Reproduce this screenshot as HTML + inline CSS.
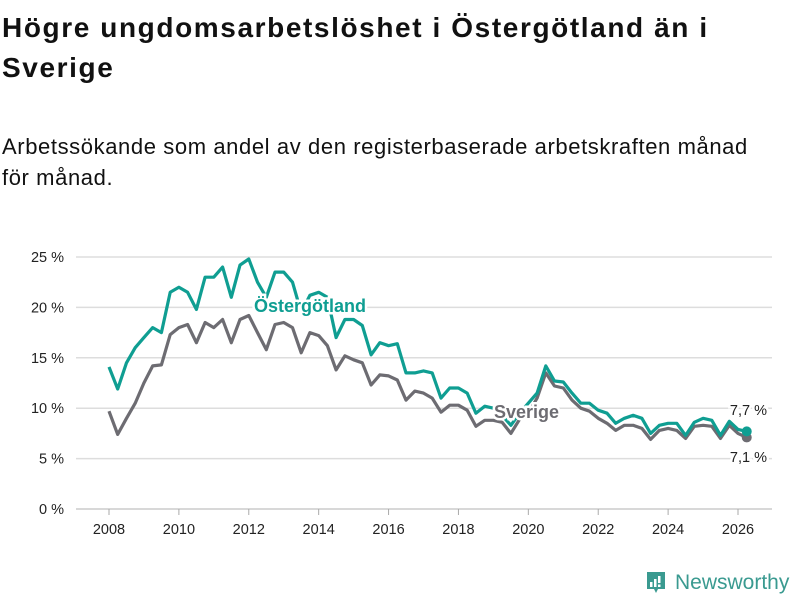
<!DOCTYPE html>
<html><head><meta charset="utf-8">
<style>
body{margin:0;background:#fff;font-family:"Liberation Sans","DejaVu Sans",sans-serif;color:#111}
#wrap{position:relative;width:800px;height:600px;overflow:hidden}
h1{position:absolute;left:2px;top:8px;margin:0;font-size:28px;line-height:40px;font-weight:bold;width:798px;letter-spacing:1.6px;white-space:nowrap}
.sub{position:absolute;left:2px;top:131px;margin:0;font-size:22px;line-height:31px;width:798px;letter-spacing:0.6px;white-space:nowrap}
svg{position:absolute;left:0;top:0}
</style></head><body>
<div id="wrap">
<h1>Högre ungdomsarbetslöshet i Östergötland än i<br>Sverige</h1>
<p class="sub">Arbetssökande som andel av den registerbaserade arbetskraften månad<br>för månad.</p>
<svg id="chart" width="800" height="600"></svg>
<div style="position:absolute;left:645px;top:570px;height:26px;display:flex;align-items:center">
<svg width="22" height="24" style="position:static" viewBox="0 0 22 24"><path d="M2 1h18v17h-7l-2 4-2-4H2z" fill="#3a9a90"/><rect x="5" y="11" width="2.5" height="5" fill="#fff"/><rect x="9" y="8" width="2.5" height="8" fill="#fff"/><rect x="13" y="5" width="2.5" height="7" fill="#fff"/><rect x="13" y="13.5" width="2.5" height="2.5" fill="#fff"/></svg>
<span style="color:#3a9a90;font-size:21px;margin-left:8px">Newsworthy</span></div>
</div>
<script>
const startYear = 2008;
const stepYears = 0.25;
const ostergotland = [14.1,11.9,14.5,16,17,18,17.5,21.5,22,21.5,19.8,23,23,24,21,24.2,24.8,22.5,21,23.5,23.5,22.5,19.5,21.2,21.5,21,17,18.8,18.8,18.2,15.3,16.5,16.2,16.4,13.5,13.5,13.7,13.5,11,12,12,11.5,9.5,10.2,10,9.3,8.3,9.5,10.5,11.5,14.2,12.7,12.6,11.5,10.5,10.5,9.8,9.5,8.5,9,9.3,9,7.5,8.3,8.5,8.5,7.3,8.6,9,8.8,7.3,8.7,7.9,7.7];
const sverige = [9.7,7.4,9,10.5,12.5,14.2,14.3,17.3,18,18.3,16.5,18.5,18,18.8,16.5,18.8,19.2,17.5,15.8,18.3,18.5,18,15.5,17.5,17.2,16.2,13.8,15.2,14.8,14.5,12.3,13.3,13.2,12.8,10.8,11.7,11.5,11,9.6,10.3,10.3,9.8,8.2,8.8,8.8,8.6,7.5,8.9,9.5,11,13.5,12.2,12,10.8,10,9.7,9,8.5,7.8,8.3,8.3,8,6.9,7.8,8,7.8,7,8.2,8.3,8.2,7,8.3,7.5,7.1];
const yTicks = [0,5,10,15,20,25];
const xTicks = [2008,2010,2012,2014,2016,2018,2020,2022,2024,2026];
const svg = document.getElementById('chart');
const NS = 'http://www.w3.org/2000/svg';
const x = yr => 109 + (yr - 2008) * (738 - 109) / 18;
const y = v => 509 - v * (509 - 257) / 25;
function mk(tag, attrs, parent){const e=document.createElementNS(NS,tag);for(const k in attrs)e.setAttribute(k,attrs[k]);(parent||svg).appendChild(e);return e;}
yTicks.forEach(t=>{
  const l=mk('line',{x1:76,x2:772,y1:y(t),y2:y(t),stroke:t===0?'#ccc':'#ddd','stroke-width':1.5});
  
  
  const tx=mk('text',{x:64,y:y(t)+5,'text-anchor':'end','font-size':14.5,fill:'#222'});
  tx.textContent=t+' %';
  
  
});
xTicks.forEach(t=>{
  const l=mk('line',{x1:x(t),x2:x(t),y1:509,y2:515,stroke:'#aaa','stroke-width':1});
  
  
  const tx=mk('text',{x:x(t),y:534,'text-anchor':'middle','font-size':14.5,fill:'#222'});
  tx.textContent=t;
  
  
});
function line(data,color,name){
  const d=data.map((v,i)=>(i?'L':'M')+x(startYear+i*stepYears).toFixed(1)+','+y(v).toFixed(1)).join('');
  const p=mk('path',{d:d,fill:'none',stroke:color,'stroke-width':3.2,'stroke-linejoin':'round'});
  
  
  const n=data.length-1;
  const c=mk('circle',{cx:x(startYear+n*stepYears),cy:y(data[n]),r:5,fill:color});
  
  
}
line(sverige,'#6d6c72','sverige-line');
line(ostergotland,'#0f9e92','ostergotland-line');
function label(txt,xx,yy,color,size,bold,name,anchor){
  const t=mk('text',{x:xx,y:yy,fill:color,'font-size':size,'font-weight':bold?'bold':'normal',stroke:'#fff','stroke-width':5,'paint-order':'stroke','text-anchor':anchor||'start'});
  t.textContent=txt;
  
  
}
label('Östergötland',254,312,'#0f9e92',18,true,'ostergotland-label');
label('Sverige',494,418,'#6d6c72',18,true,'sverige-label');
label('7,7 %',767,415,'#222',14.5,false,'ostergotland-end-value','end');
label('7,1 %',767,462,'#222',14.5,false,'sverige-end-value','end');
</script>
</body></html>
